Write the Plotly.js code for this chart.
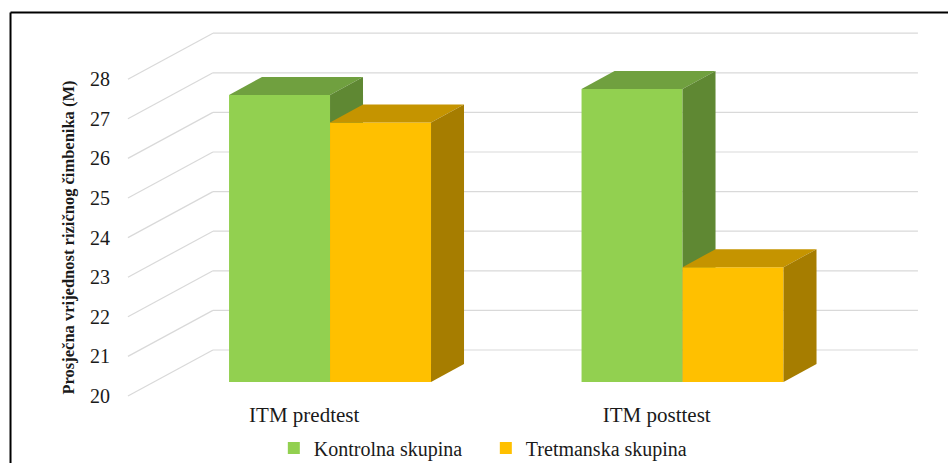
<!DOCTYPE html>
<html>
<head>
<meta charset="utf-8">
<script src="https://cdn.plot.ly/plotly-3.0.1.min.js"></script>
<style>html,body{margin:0;padding:0;background:#fff;}#chart{width:948px;height:463px;}</style>
</head>
<body>
<div id="chart"></div>
<script>
// ---- data ----
const categories = ['ITM predtest', 'ITM posttest'];
const seriesNames = ['Kontrolna skupina', 'Tretmanska skupina'];
const kontrolna = [27.25, 27.4];
const tretmanska = [26.55, 22.9];
const yTickValues = [20, 21, 22, 23, 24, 25, 26, 27, 28];
const yTitle = 'Prosječna vrijednost rizičnog čimbenika (M)';

// ---- 3D projection constants (in axis units) ----
const baseValue = 20;
const barWidth = 0.2865;
const depthX = 0.0936, depthY = 0.4545;      // bar depth
const frontX = -0.0733, frontY = -0.3535;    // floor front edge relative to bar plane
const backX = 0.1678, backY = 0.808;         // back wall relative to bar plane

const xRange = [-0.61, 1.702];
const yRange = [19.5455, 29.015];
const font = 'Liberation Serif';

const colors = {
  green: {front: '#92D050', top: '#70A03F', side: '#5F8833'},
  yellow: {front: '#FFC000', top: '#C59400', side: '#A67D00'}
};

const xIdx = categories.map((c, i) => i);

function faces(values, offset, col, xa, ya) {
  const out = [];
  values.forEach((v, i) => {
    const xl = xIdx[i] + offset, xr = xl + barWidth;
    out.push({
      type: 'scatter', mode: 'lines', fill: 'toself', fillcolor: col.top,
      line: {width: 0}, hoverinfo: 'skip', showlegend: false, xaxis: xa, yaxis: ya,
      x: [xl, xr, xr + depthX, xl + depthX, xl],
      y: [v, v, v + depthY, v + depthY, v]
    });
    out.push({
      type: 'scatter', mode: 'lines', fill: 'toself', fillcolor: col.side,
      line: {width: 0}, hoverinfo: 'skip', showlegend: false, xaxis: xa, yaxis: ya,
      x: [xr, xr, xr + depthX, xr + depthX, xr],
      y: [baseValue, v, v + depthY, baseValue + depthY, baseValue]
    });
  });
  return out;
}

const traces = [
  {type: 'bar', name: seriesNames[0], x: xIdx, y: kontrolna.map(v => v - baseValue), base: baseValue,
   width: barWidth, offset: -barWidth, marker: {color: colors.green.front, line: {width: 0}},
   xaxis: 'x', yaxis: 'y'},
  ...faces(kontrolna, -barWidth, colors.green, 'x', 'y'),
  {type: 'bar', name: seriesNames[1], x: xIdx, y: tretmanska.map(v => v - baseValue), base: baseValue,
   width: barWidth, offset: 0, marker: {color: colors.yellow.front, line: {width: 0}},
   xaxis: 'x2', yaxis: 'y2'},
  ...faces(tretmanska, 0, colors.yellow, 'x2', 'y2')
];

// gridlines: back wall + diagonal side wall lines
const shapes = [];
yTickValues.forEach(v => {
  shapes.push({type: 'line', layer: 'below', xref: 'x', yref: 'y',
    x0: -0.5 + backX, x1: 1.5 + backX, y0: v + backY, y1: v + backY,
    line: {color: '#D9D9D9', width: 1.2}});
  shapes.push({type: 'line', layer: 'below', xref: 'x', yref: 'y',
    x0: -0.5 + frontX, x1: -0.5 + backX, y0: v + frontY, y1: v + backY,
    line: {color: '#D9D9D9', width: 1.2}});
});
// outer frame (top and left)
shapes.push({type: 'line', xref: 'paper', yref: 'paper', x0: -0.1282, x1: 1.05, y0: 1.0333, y1: 1.0333,
  line: {color: '#000', width: 2}});
shapes.push({type: 'line', xref: 'paper', yref: 'paper', x0: -0.1282, x1: -0.1282, y0: 1.0333, y1: -0.3,
  line: {color: '#000', width: 2}});

const layout = {
  width: 948, height: 463,
  margin: {l: 115, r: 18, t: 25, b: 63, autoexpand: false},
  paper_bgcolor: '#fff', plot_bgcolor: 'rgba(0,0,0,0)',
  font: {family: font, color: '#1a1a1a', size: 18},
  showlegend: true,
  legend: {orientation: 'h', x: 0.455, xanchor: 'center', y: -0.128, yanchor: 'middle',
    entrywidth: 167, entrywidthmode: 'pixels',
    font: {family: font, size: 20, color: '#1a1a1a'}, traceorder: 'normal'},
  xaxis: {range: xRange, showgrid: false, zeroline: false, showline: false, ticks: '',
    tickmode: 'array', tickvals: xIdx.map(i => i + frontX), ticktext: categories,
    tickfont: {family: font, size: 21, color: '#1a1a1a'}, fixedrange: true},
  yaxis: {range: yRange, showgrid: false, zeroline: false, showline: false, ticks: '',
    tickmode: 'array', tickvals: yTickValues.map(v => v + frontY), ticktext: yTickValues.map(String),
    tickfont: {family: font, size: 20, color: '#1a1a1a'}, ticklabelstandoff: 4, fixedrange: true},
  xaxis2: {range: xRange, overlaying: 'x', anchor: 'y2', visible: false, fixedrange: true},
  yaxis2: {range: yRange, overlaying: 'y', anchor: 'x2', visible: false, fixedrange: true},
  shapes: shapes,
  annotations: [{
    text: '<b>' + yTitle + '</b>', textangle: -90, showarrow: false,
    xref: 'paper', yref: 'paper', x: (68 - 115) / 815, y: (400 - 237.5) / 375,
    xanchor: 'center', yanchor: 'middle', font: {family: font, size: 16.5, color: '#1a1a1a'}
  }]
};

Plotly.newPlot('chart', traces, layout, {displayModeBar: false, staticPlot: true});
</script>
</body>
</html>
